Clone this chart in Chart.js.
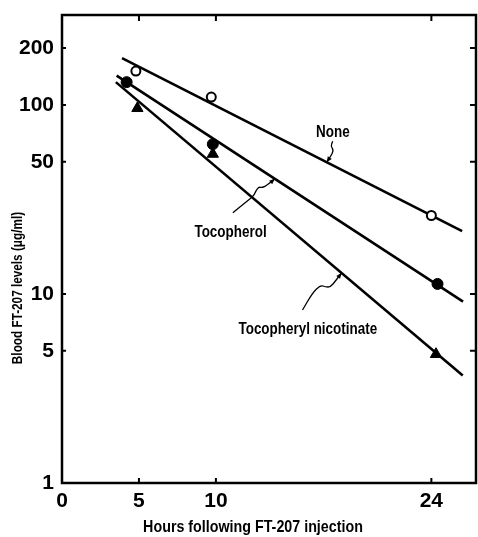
<!DOCTYPE html>
<html lang="en">
<head>
<meta charset="UTF-8">
<title>Blood FT-207 levels</title>
<script src="https://cdn.jsdelivr.net/npm/chart.js"></script>
<style>
    html, body { margin: 0; padding: 0; background: #fff; }
</style>
</head>
<body>
<canvas id="ftChart" width="478" height="537"></canvas>
<script>
// measured points (hours after injection, blood level in ug/ml)
const noneHours = [4.8, 9.7, 24.0];
const noneLevels = [151, 110, 26];
const tocHours = [4.2, 9.8, 24.4];
const tocLevels = [132, 62, 11.3];
const nicHours = [4.9, 9.8, 24.3];
const nicLevels = [96, 55, 4.8];

// fitted lines, start and end
const noneFitHours = [3.9, 26.0];
const noneFitLevels = [177, 21.5];
const tocFitHours = [3.55, 26.06];
const tocFitLevels = [143, 9.1];
const nicFitHours = [3.5, 26.04];
const nicFitLevels = [132, 3.7];

const xTicks = [0, 5, 10, 24];
const yTicks = [1, 5, 10, 50, 100, 200];

const seriesNames = ['None', 'Tocopherol', 'Tocopheryl nicotinate'];
const xTitle = 'Hours following FT-207 injection';
const yTitle = 'Blood FT-207 levels (\u03bcg/ml)';

const fontFam = '"Liberation Sans", Arial, sans-serif';

function pts(xs, ys) {
    return xs.map((h, i) => ({ x: h, y: ys[i] }));
}

// level on a fitted line at a given hour (straight on the log axis)
function onFit(hours, levels, h) {
    const t = (h - hours[0]) / (hours[1] - hours[0]);
    const la = Math.log10(levels[0]), lb = Math.log10(levels[1]);
    return Math.pow(10, la + (lb - la) * t);
}

// condensed text, the original uses a narrow face
function narrowText(ctx, text, x, y, size, rot) {
    ctx.save();
    ctx.translate(x, y);
    if (rot) ctx.rotate(rot);
    ctx.scale(0.84, 1);
    ctx.font = 'bold ' + size + 'px ' + fontFam;
    ctx.fillText(text, 0, 0);
    ctx.restore();
}

// labels and squiggly leaders, leader offsets in px from the point on the line
const notes = [
    { text: seriesNames[0], x: 17.6, y: 71, fitH: noneFitHours, fitL: noneFitLevels, at: 17.2,
      path: [[0, 0], [4, -6], [7, -12], [4, -16], [6, -21]] },
    { text: seriesNames[1], x: 10.95, y: 21, fitH: tocFitHours, fitL: tocFitLevels, at: 13.83,
      path: [[0, 0], [-7, 6], [-13, 9], [-16, 8], [-19, 12], [-21, 17], [-31, 25], [-42, 34]] },
    { text: seriesNames[2], x: 15.97, y: 6.45, fitH: nicFitHours, fitL: nicFitLevels, at: 18.16,
      path: [[0, 0], [-6, 8], [-11, 14], [-16, 14], [-21, 12], [-29, 20], [-39, 37]] }
];

const framePlugin = {
    id: 'frame',
    afterDatasetsDraw(chart) {
        const { ctx, chartArea: a, scales: { x, y } } = chart;
        ctx.save();
        ctx.strokeStyle = '#000';
        ctx.fillStyle = '#000';
        ctx.lineWidth = 2.5;
        ctx.strokeRect(a.left, a.top, a.right - a.left, a.bottom - a.top);

        // inward ticks on all four sides
        ctx.lineWidth = 2;
        ctx.beginPath();
        yTicks.filter(v => v > 1).forEach(v => {
            const py = y.getPixelForValue(v);
            ctx.moveTo(a.left, py); ctx.lineTo(a.left + 4, py);
            ctx.moveTo(a.right, py); ctx.lineTo(a.right - 6, py);
        });
        xTicks.filter(v => v > 0).forEach(v => {
            const px = x.getPixelForValue(v);
            ctx.moveTo(px, a.bottom); ctx.lineTo(px, a.bottom - 5);
            ctx.moveTo(px, a.top); ctx.lineTo(px, a.top + 6);
        });
        ctx.stroke();

        // series labels with leaders
        ctx.textAlign = 'center';
        ctx.textBaseline = 'middle';
        notes.forEach(n => {
            narrowText(ctx, n.text, x.getPixelForValue(n.x), y.getPixelForValue(n.y), 16);
            const ax = x.getPixelForValue(n.at);
            const ay = y.getPixelForValue(onFit(n.fitH, n.fitL, n.at));
            const p = n.path.map(d => [ax + d[0], ay + d[1]]);
            ctx.lineWidth = 1.3;
            ctx.beginPath();
            ctx.moveTo(p[0][0], p[0][1]);
            for (let i = 1; i < p.length - 1; i++) {
                const mx = (p[i][0] + p[i + 1][0]) / 2, my = (p[i][1] + p[i + 1][1]) / 2;
                ctx.quadraticCurveTo(p[i][0], p[i][1], mx, my);
            }
            ctx.lineTo(p[p.length - 1][0], p[p.length - 1][1]);
            ctx.stroke();
            // small arrow head on the line
            const ang = Math.atan2(p[0][1] - p[1][1], p[0][0] - p[1][0]);
            ctx.beginPath();
            ctx.moveTo(p[0][0], p[0][1]);
            ctx.lineTo(p[0][0] - 6 * Math.cos(ang - 0.4), p[0][1] - 6 * Math.sin(ang - 0.4));
            ctx.lineTo(p[0][0] - 6 * Math.cos(ang + 0.4), p[0][1] - 6 * Math.sin(ang + 0.4));
            ctx.closePath();
            ctx.fill();
        });

        // axis titles
        narrowText(ctx, xTitle, 253, 527, 17);
        narrowText(ctx, yTitle, 18, 288, 14, -Math.PI / 2);
        ctx.restore();
    }
};

const lineStyle = { showLine: true, borderColor: '#000', borderWidth: 2.6, pointRadius: 0, order: 2 };
const tickFont = { family: fontFam, size: 21, weight: 'bold' };

new Chart(document.getElementById('ftChart'), {
    type: 'scatter',
    data: {
        datasets: [
            { label: seriesNames[0] + ' fit', data: pts(noneFitHours, noneFitLevels), ...lineStyle },
            { label: seriesNames[1] + ' fit', data: pts(tocFitHours, tocFitLevels), ...lineStyle },
            { label: seriesNames[2] + ' fit', data: pts(nicFitHours, nicFitLevels), ...lineStyle },
            { label: seriesNames[0], data: pts(noneHours, noneLevels), pointStyle: 'circle', pointRadius: 4.5,
              backgroundColor: '#fff', borderColor: '#000', borderWidth: 2, order: 1 },
            { label: seriesNames[1], data: pts(tocHours, tocLevels), pointStyle: 'circle', pointRadius: 5.5,
              backgroundColor: '#000', borderColor: '#000', borderWidth: 1, order: 1 },
            { label: seriesNames[2], data: pts(nicHours, nicLevels), pointStyle: 'triangle', pointRadius: 6.5,
              backgroundColor: '#000', borderColor: '#000', borderWidth: 1, order: 1 }
        ]
    },
    options: {
        responsive: false,
        animation: false,
        layout: { autoPadding: false, padding: { top: 15, right: 2, left: 0, bottom: 0 } },
        plugins: { legend: { display: false }, tooltip: { enabled: false } },
        scales: {
            x: {
                type: 'linear', min: 0, max: 26.9,
                afterBuildTicks: s => { s.ticks = xTicks.map(v => ({ value: v })); },
                afterFit: s => { s.height = 54; s.paddingLeft = 0; s.paddingRight = 0; },
                grid: { display: false, drawTicks: false },
                border: { display: false },
                ticks: { color: '#000', font: tickFont, padding: 6, maxRotation: 0, autoSkip: false }
            },
            y: {
                type: 'logarithmic', min: 1, max: 299,
                afterBuildTicks: s => { s.ticks = yTicks.map(v => ({ value: v })); },
                afterFit: s => { s.width = 62; s.paddingTop = 0; s.paddingBottom = 0; },
                grid: { display: false, drawTicks: false },
                border: { display: false },
                ticks: { color: '#000', font: tickFont, padding: 8, autoSkip: false,
                         callback: v => String(v) }
            }
        }
    },
    plugins: [framePlugin]
});
</script>
</body>
</html>
